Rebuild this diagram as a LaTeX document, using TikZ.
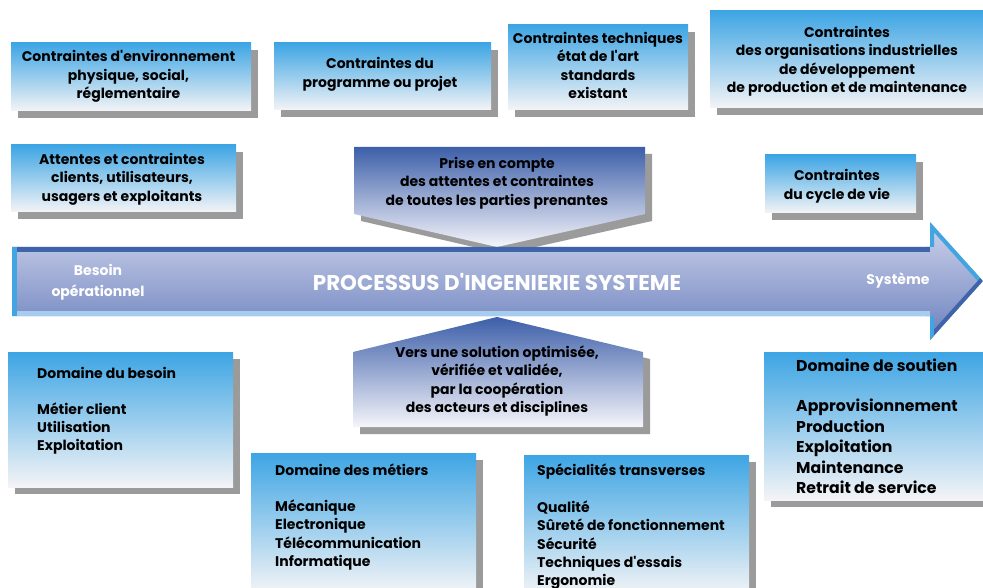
\documentclass[tikz,border=0pt]{standalone}
\usepackage{fontspec}
\setmainfont{Poppins}[Ligatures=TeXOff]
\usetikzlibrary{shadows}
\definecolor{boxtop}{HTML}{3DA5E4}
\definecolor{boxbot}{HTML}{F4F4F6}
\definecolor{shgray}{HTML}{9B9B9B}
\definecolor{arrtop}{HTML}{CFD4EC}
\definecolor{arrbot}{HTML}{6A80BD}
\definecolor{darkblue}{HTML}{3F64AA}
\definecolor{lightblue}{HTML}{A8CCEE}
\definecolor{edgeblue}{HTML}{42A5E2}
\definecolor{pentop}{HTML}{3D5FA9}
\definecolor{penbot}{HTML}{F5F5FA}
\begin{document}
\begin{tikzpicture}[x=1pt,y=-1pt,
  shad/.style={drop shadow={shadow xshift=7pt,shadow yshift=-7pt,fill=shgray,opacity=1}},
  box/.style={shad,top color=boxtop,bottom color=boxbot,anchor=north west,inner sep=0pt,outer sep=0pt},
  txt/.style={font=\bfseries\fontsize{14}{18.5}\selectfont,align=center,inner sep=0pt,text=black},
  ltxt/.style={font=\bfseries\fontsize{14}{18.3}\selectfont,align=left,inner sep=0pt,text=black,anchor=north west},
  wtxt/.style={font=\bfseries\fontsize{14}{20.5}\selectfont,align=center,inner sep=0pt,text=white}]
\useasboundingbox (0,0) rectangle (983,588);
% top boxes
\node[box,minimum width=240pt,minimum height=68pt] (bA) at (11,43) {};
\node[txt] (tA) at (128.5,76.5) {Contraintes d'environnement\\physique, social,\\réglementaire};
\node[box,minimum width=217pt,minimum height=67pt] (bB) at (274,43) {};
\node[txt] (tB) at (380,74.5) {Contraintes du\\programme ou projet};
\node[box,minimum width=180pt,minimum height=85pt] (bC) at (508,25) {};
\node[txt] (tC) at (598,65.5) {Contraintes techniques\\état de l'art\\standards\\existant};
\node[box,minimum width=275pt,minimum height=97pt] (bD) at (710,11) {};
\node[txt] (tD) at (847,61.5) {Contraintes\\des organisations industrielles\\de développement\\de production et de maintenance};
\node[box,minimum width=225pt,minimum height=67pt] (bE) at (11,145) {};
\node[txt] (tE) at (122,179) {Attentes et contraintes\\clients, utilisateurs,\\usagers et exploitants};
\node[box,minimum width=151pt,minimum height=58pt] (bF) at (765,155) {};
\node[txt] (tF) at (837,186) {Contraintes\\du cycle de vie};
% pentagon down
\path[shad,top color=pentop,bottom color=penbot] (354,147) -- (645,147) -- (645,214) -- (497,247) -- (354,214) -- cycle;
\node[txt] (tP) at (497,183) {Prise en compte\\des attentes et contraintes\\de toutes les parties prenantes};
% big arrow
\path[top color=arrtop,bottom color=arrbot] (12,247) -- (930,247) -- (930,222) -- (983,281) -- (930,340) -- (930,316) -- (12,316) -- cycle;
\begin{scope}
\clip (12,247) -- (930,247) -- (930,222) -- (983,281) -- (930,340) -- (930,316) -- (12,316) -- cycle;
\draw[darkblue,line width=10pt] (12,247) -- (930,247);
\draw[lightblue,line width=10pt] (12,316) -- (930,316);
\draw[edgeblue,line width=10pt] (12,247) -- (12,316);
\draw[edgeblue,line width=8pt,line join=miter] (930,247) -- (930,222) -- (983,281);
\draw[darkblue,line width=8pt] (983,281) -- (930,340);
\draw[edgeblue,line width=8pt] (930,340) -- (930,316);
\end{scope}
\node[wtxt] (tBes) at (98,282.5) {Besoin\\opérationnel};
\node[wtxt,font=\bfseries\fontsize{21.4}{24}\selectfont] (tProc) at (497,282) {PROCESSUS D'INGENIERIE SYSTEME};
\node[wtxt] (tSys) at (898,281) {Système};
% pentagon up
\path[shad,top color=pentop,bottom color=penbot] (497,317) -- (643,352) -- (643,427) -- (353,427) -- (353,352) -- cycle;
\node[txt] (tV) at (497,381) {Vers une solution optimisée,\\vérifiée et validée,\\par la coopération\\des acteurs et disciplines};
% bottom boxes
\node[box,minimum width=225pt,minimum height=135pt] (bG) at (8,352) {};
\node[ltxt] (tG) at (37,367.4) {Domaine du besoin\\[17pt]Métier client\\Utilisation\\Exploitation};
\node[box,minimum width=225pt,minimum height=140pt] (bI) at (251,453) {};
\node[ltxt] (tI) at (275,463.4) {Domaine des métiers\\[18pt]Mécanique\\Electronique\\Télécommunication\\Informatique};
\node[box,minimum width=225pt,minimum height=140pt] (bJ) at (524,455) {};
\node[ltxt] (tJ) at (537,463.4) {Spécialités transverses\\[19pt]Qualité\\Sûreté de fonctionnement\\Sécurité\\Techniques d'essais\\Ergonomie};
\node[box,minimum width=222pt,minimum height=148pt] (bH) at (764,352) {};
\node[ltxt,font=\bfseries\fontsize{15.7}{20.5}\selectfont] (tH) at (796,358.6) {Domaine de soutien\\[20pt]Approvisionnement\\Production\\Exploitation\\Maintenance\\Retrait de service};
\end{tikzpicture}
\end{document}
